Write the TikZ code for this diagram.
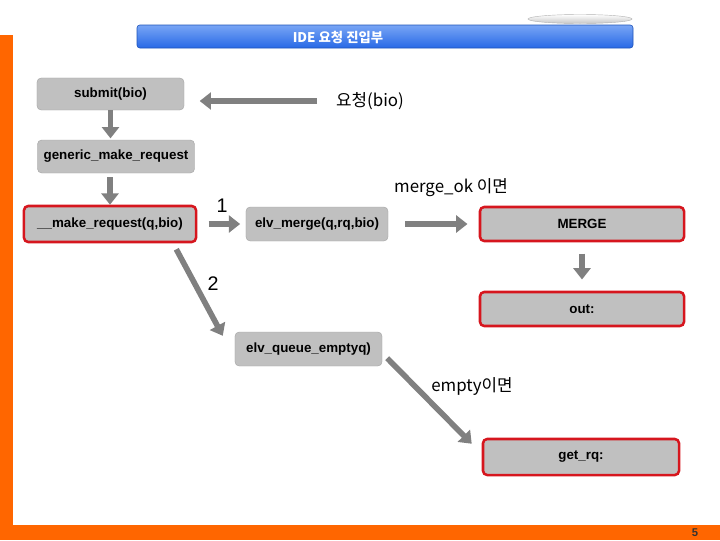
\documentclass[tikz,border=0pt]{standalone}
\usepackage{fontspec}
\setmainfont{Liberation Sans}
\newfontfamily\kor{Noto Sans CJK KR}
\usetikzlibrary{arrows.meta, shapes.geometric}
\definecolor{orangebar}{RGB}{255,102,0}
\definecolor{boxgray}{RGB}{192,192,192}
\definecolor{arrowgray}{RGB}{128,128,128}
\definecolor{redline}{RGB}{214,22,30}
\definecolor{titletop}{RGB}{120,165,245}
\definecolor{titlebot}{RGB}{40,105,230}

\begin{document}
\begin{tikzpicture}[
  x=0.025cm, y=-0.025cm,
  fn/.style={rectangle, rounded corners=3pt, fill=boxgray, draw=boxgray!85!black, line width=0.3pt,
    inner sep=0pt, font=\fontsize{9.5}{11}\selectfont\bfseries, align=center},
  redfn/.style={fn, draw=redline, line width=1.8pt},
  note/.style={font=\kor\fontsize{12}{14}\selectfont},
  arrow/.style={-{Triangle[length=8pt,width=12pt]}, line width=4pt, arrowgray}
]
\useasboundingbox (0,0) rectangle (720,540);

% Frame bars
\fill[orangebar] (0,35) rectangle (13,540);
\fill[orangebar] (0,525) rectangle (720,540);
\node[font=\fontsize{8}{9}\selectfont\bfseries, text=black!80] (page) at (695,533) {5};

% Title bar
\shade[top color=titletop, bottom color=titlebot, rounded corners=2pt, draw=titlebot!80!black, line width=0.4pt]
  (137,25) rectangle (633,48);
\shade[top color=white, bottom color=gray!45, draw=gray!60, line width=0.3pt] (580,19) ellipse (52 and 4.5);
\node[font=\kor\fontsize{9.5}{11}\selectfont\bfseries, text=white] (title) at (338,37) {IDE 요청 진입부};

% Call path
\node[fn, minimum width=3.675cm, minimum height=0.8cm] (submit) at (110.5,94) {submit(bio)};
\node[note] (req) at (370,101) {요청(bio)};
\node[fn, minimum width=3.925cm, minimum height=0.825cm] (generic) at (116,156.5) {generic\_make\_request};
\node[redfn, minimum width=4.3cm, minimum height=0.9cm] (mkreq) at (110,224) {\_\_make\_request(q,bio)};

% Merge branch
\node[font=\fontsize{14}{16}\selectfont] (one) at (222,206) {1};
\node[fn, minimum width=3.55cm, minimum height=0.85cm] (elvmerge) at (317,224) {elv\_merge(q,rq,bio)};
\node[note] (mergeok) at (451,188) {merge\_ok 이면};
\node[redfn, minimum width=5.1cm, minimum height=0.85cm] (merge) at (582,224) {MERGE};
\node[redfn, minimum width=5.1cm, minimum height=0.85cm] (out) at (582,309) {out:};

% Empty branch
\node[font=\fontsize{14}{16}\selectfont] (two) at (213,284) {2};
\node[fn, minimum width=3.675cm, minimum height=0.85cm] (eq) at (308.5,349) {elv\_queue\_emptyq)};
\node[note] (empty) at (472,386) {empty이면};
\node[redfn, minimum width=4.9cm, minimum height=0.9cm] (getrq) at (581,457) {get\_rq:};

\draw[arrow, shorten <=10pt, shorten >=11pt] (req.west) -- (req.west -| submit.east);
\draw[arrow, shorten >=1pt] (submit.south) -- (submit.south |- generic.north);
\draw[arrow, shorten <=3pt, shorten >=0pt] (generic.south -| mkreq.north) -- (mkreq.north);
\draw[arrow, shorten <=8pt, shorten >=4pt] (mkreq.east) -- (elvmerge.west);
\draw[arrow, shorten <=12pt, shorten >=8pt] (elvmerge.east) -- (merge.west);
\draw[arrow, shorten <=8pt, shorten >=8pt] (merge.south) -- (out.north);
\draw[arrow] ([shift={(-21,6)}]mkreq.south east) -- ([shift={(-12,4)}]eq.north west);
\draw[arrow] ([shift={(5,-8)}]eq.south east) -- ([shift={(-10,6)}]getrq.north west);
\end{tikzpicture}
\end{document}
